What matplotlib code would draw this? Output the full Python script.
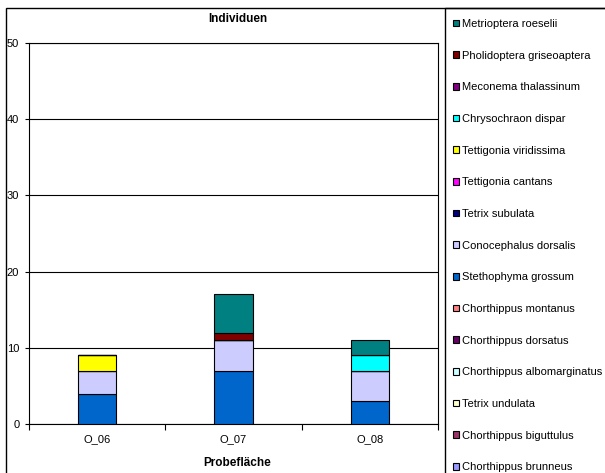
import matplotlib

matplotlib.use("Agg")
import matplotlib.pyplot as plt
from matplotlib.patches import Rectangle
import numpy as np

plt.rcParams["font.family"] = ["Liberation Sans", "DejaVu Sans"]

plots = ["O_06", "O_07", "O_08"]

# species in stacking order, bottom to top
species = [
    "Chorthippus brunneus",
    "Chorthippus biguttulus",
    "Tetrix undulata",
    "Chorthippus albomarginatus",
    "Chorthippus dorsatus",
    "Chorthippus montanus",
    "Stethophyma grossum",
    "Conocephalus dorsalis",
    "Tetrix subulata",
    "Tettigonia cantans",
    "Tettigonia viridissima",
    "Chrysochraon dispar",
    "Meconema thalassinum",
    "Pholidoptera griseoaptera",
    "Metrioptera roeselii",
]
colors = [
    "#9999FF", "#993366", "#FFFFCC", "#CCFFFF", "#660066",
    "#FF8080", "#0066CC", "#CCCCFF", "#000080", "#FF00FF",
    "#FFFF00", "#00FFFF", "#800080", "#800000", "#008080",
]

# counts per species for O_06, O_07, O_08
counts = {
    "Chorthippus brunneus": [0, 0, 0],
    "Chorthippus biguttulus": [0, 0, 0],
    "Tetrix undulata": [0, 0, 0],
    "Chorthippus albomarginatus": [0, 0, 0],
    "Chorthippus dorsatus": [0, 0, 0],
    "Chorthippus montanus": [0, 0, 0],
    "Stethophyma grossum": [4, 7, 3],
    "Conocephalus dorsalis": [3, 4, 4],
    "Tetrix subulata": [0, 0, 0],
    "Tettigonia cantans": [0, 0, 0],
    "Tettigonia viridissima": [2, 0, 0],
    "Chrysochraon dispar": [0, 0, 2],
    "Meconema thalassinum": [0, 0, 0],
    "Pholidoptera griseoaptera": [0, 1, 0],
    "Metrioptera roeselii": [0, 5, 2],
}

W, H = 605, 473
fig = plt.figure(figsize=(W / 100, H / 100), dpi=100)
ax = fig.add_axes([29 / W, 1 - 424 / H, (438 - 29) / W, (424 - 43) / H])

x = np.arange(len(plots))
bottom = np.zeros(len(plots))
handles = []
for name, c in zip(species, colors):
    vals = np.array(counts[name], dtype=float)
    h = ax.bar(x, vals, 0.28, bottom=bottom, color=c, edgecolor="black",
               linewidth=0.8, zorder=3)
    handles.append(h)
    bottom += vals

ax.set_xlim(-0.5, 2.5)
ax.set_ylim(0, 50)
ax.set_yticks([0, 10, 20, 30, 40, 50])
ax.yaxis.grid(True, color="black", lw=0.8, zorder=0)
ax.tick_params(axis="y", direction="out", length=3, width=0.8, labelsize=8, pad=4)
ax.set_xticks(x)
ax.set_xticklabels(plots)
ax.tick_params(axis="x", which="major", length=0, labelsize=8, pad=7)
ax.set_xticks([-0.5, 0.5, 1.5, 2.5], minor=True)
ax.tick_params(axis="x", which="minor", direction="out", length=4, width=0.8)
for s in ax.spines.values():
    s.set_linewidth(0.8)
    s.set_color("black")

fig.text(238 / W, 1 - 19 / H, "Individuen", ha="center", va="center",
         fontsize=8.5, fontweight="bold")
fig.text(237 / W, 1 - 463 / H, "Probefläche", ha="center", va="center",
         fontsize=8.5, fontweight="bold")

# outer chart border and legend box
fig.patches.append(Rectangle((6 / W, -0.1), 1.2, 1 - 8 / H + 0.1,
                             transform=fig.transFigure, fill=False,
                             edgecolor="black", lw=1.0))
fig.patches.append(Rectangle((445 / W, -0.1), 1.2, 1 - 8 / H + 0.1,
                             transform=fig.transFigure, fill=False,
                             edgecolor="black", lw=1.0))

fig.legend(handles[::-1], species[::-1], loc="upper left",
           bbox_to_anchor=(453 / W, 1 - 19 / H), frameon=False,
           fontsize=8, labelspacing=1.95, handlelength=0.55,
           handleheight=0.55, handletextpad=0.3, borderaxespad=0,
           borderpad=0)

fig.savefig("out.png", dpi=100)
